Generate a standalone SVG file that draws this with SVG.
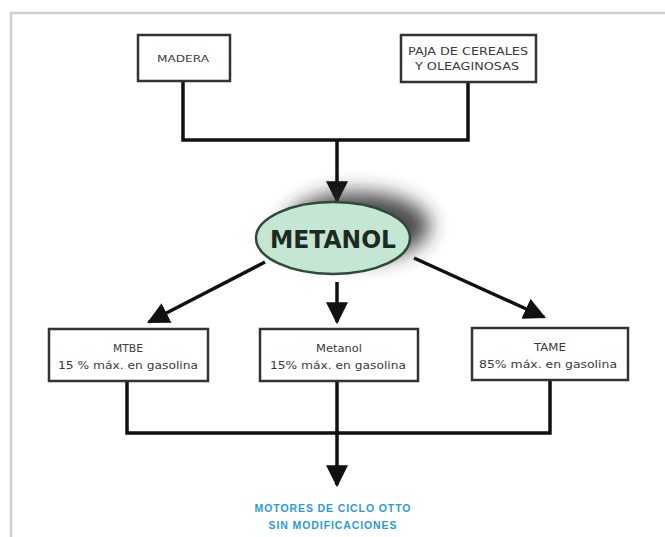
<svg xmlns="http://www.w3.org/2000/svg" width="665" height="537" viewBox="0 0 665 537">
<defs>
<style>
.box{fill:#fff;stroke:#333;stroke-width:2.5}
.t{font-family:"DejaVu Sans","Liberation Sans",sans-serif;fill:#3a3a3a;text-anchor:middle}
.c{fill:none;stroke:#111;stroke-width:3.5}
.blue{font-family:"Liberation Sans",Arial,sans-serif;font-weight:bold;fill:#2b9ad9;text-anchor:middle;font-size:10.5px;letter-spacing:0.9px}
</style>
<marker id="ah" viewBox="0 0 20 20" refX="18" refY="10" markerWidth="22" markerHeight="22" markerUnits="userSpaceOnUse" orient="auto">
<path d="M0,0 L20,10 L0,20 Z" fill="#111"/>
</marker>
<filter id="blur" x="-50%" y="-50%" width="200%" height="200%"><feGaussianBlur stdDeviation="10"/></filter>
</defs>
<rect width="665" height="537" fill="#fff"/>
<path d="M11,537 V13 H665" fill="none" stroke="#cfcfcf" stroke-width="2.5"/>

<g id="connectors">
<path class="c" d="M183,82 V140 H468 V83"/>
<path class="c" d="M337,140 V201" marker-end="url(#ah)"/>
<path class="c" d="M265,262 L149,322" marker-end="url(#ah)"/>
<path class="c" d="M337,282 V322" marker-end="url(#ah)"/>
<path class="c" d="M414,258 L544,317" marker-end="url(#ah)"/>
<path class="c" d="M127,381 V433 H550 V381"/>
<path class="c" d="M337,381 V485" marker-end="url(#ah)"/>
</g>

<g id="madera">
<rect class="box" x="138" y="35" width="92" height="46"/>
<text class="t" x="183" y="62" font-size="9.5" textLength="52" lengthAdjust="spacingAndGlyphs">MADERA</text>
</g>

<g id="paja">
<rect class="box" x="401" y="35" width="135" height="47"/>
<text class="t" x="468" y="55" font-size="10" textLength="120" lengthAdjust="spacingAndGlyphs">PAJA DE CEREALES</text>
<text class="t" x="467" y="70" font-size="10" textLength="104" lengthAdjust="spacingAndGlyphs">Y OLEAGINOSAS</text>
</g>

<g id="metanol-main">
<ellipse cx="358" cy="226" rx="72" ry="34" fill="#2a2a2a" opacity="0.85" filter="url(#blur)"/>
<ellipse cx="333" cy="238" rx="77" ry="36" fill="#c6e6d4" stroke="#2e4a3a" stroke-width="2.5"/>
<text x="333" y="248" font-family="'DejaVu Sans','Liberation Sans',sans-serif" font-weight="bold" font-size="24" fill="#1c2a22" text-anchor="middle" textLength="126" lengthAdjust="spacingAndGlyphs">METANOL</text>
</g>

<g id="mtbe">
<rect class="box" x="49" y="329" width="159" height="52"/>
<text class="t" x="128" y="352" font-size="11" textLength="30" lengthAdjust="spacingAndGlyphs">MTBE</text>
<text class="t" x="128" y="369" font-size="11" textLength="140" lengthAdjust="spacingAndGlyphs">15 % máx. en gasolina</text>
</g>

<g id="metanol">
<rect class="box" x="260" y="329" width="158" height="52"/>
<text class="t" x="339" y="352" font-size="11" textLength="46" lengthAdjust="spacingAndGlyphs">Metanol</text>
<text class="t" x="338" y="369" font-size="11" textLength="136" lengthAdjust="spacingAndGlyphs">15% máx. en gasolina</text>
</g>

<g id="tame">
<rect class="box" x="472" y="328" width="156" height="52"/>
<text class="t" x="550" y="351" font-size="11" textLength="32" lengthAdjust="spacingAndGlyphs">TAME</text>
<text class="t" x="548" y="368" font-size="11" textLength="138" lengthAdjust="spacingAndGlyphs">85% máx. en gasolina</text>
</g>

<g id="motores">
<text class="blue" x="333" y="512">MOTORES DE CICLO OTTO</text>
<text class="blue" x="333" y="529">SIN MODIFICACIONES</text>
</g>
</svg>
